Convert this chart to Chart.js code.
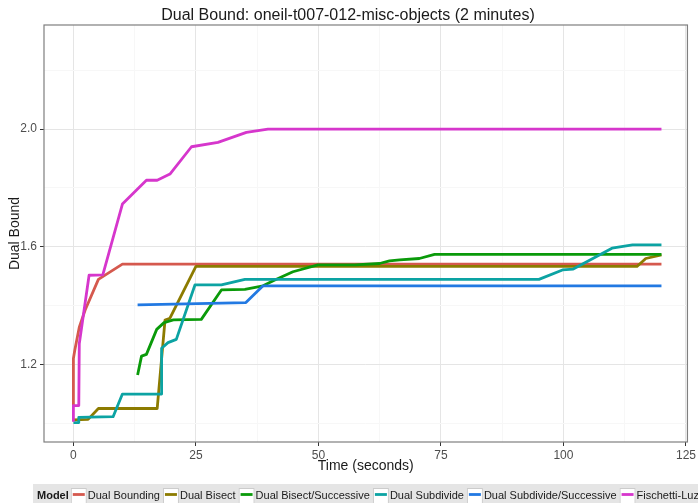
<!DOCTYPE html>
<html>
<head>
<meta charset="utf-8">
<title>Dual Bound: oneil-t007-012-misc-objects (2 minutes)</title>
<script src="https://cdn.jsdelivr.net/npm/chart.js@4.4.1/dist/chart.umd.min.js"></script>
<style>
  html, body { margin: 0; padding: 0; background: #ffffff; }
  canvas { display: block; }
</style>
</head>
<body>
<canvas id="chart" width="698" height="503"></canvas>
<script>
// Dual bound over time for each model (time in seconds, bound value)
const boundingTime = [0, 0, 0.3, 1.2, 2.4, 5.1, 10.0, 120];
const boundingDual = [1.06, 1.22, 1.25, 1.326, 1.385, 1.489, 1.541, 1.541];

const bisectTime = [0, 3.0, 5.1, 17.1, 18.7, 19.7, 25.0, 115.0, 116.8, 120];
const bisectDual = [1.011, 1.013, 1.05, 1.05, 1.351, 1.357, 1.533, 1.533, 1.56, 1.572];

const bisectSuccTime = [13.1, 13.9, 14.9, 17.0, 18.5, 20.4, 26.1, 30.2, 35.0, 38.7, 41.1, 44.8, 49.9, 57.4, 62.5, 64.5, 66.6, 70.6, 73.7, 120];
const bisectSuccDual = [1.164, 1.228, 1.234, 1.319, 1.342, 1.351, 1.353, 1.453, 1.455, 1.467, 1.487, 1.515, 1.538, 1.538, 1.543, 1.552, 1.555, 1.56, 1.574, 1.574];

const subdivideTime = [0, 1.0, 1.1, 8.1, 10.0, 18.0, 18.0, 19.3, 21.0, 24.8, 30.2, 35.0, 95.0, 99.8, 102.0, 109.9, 114.1, 120];
const subdivideDual = [1.002, 1.002, 1.02, 1.022, 1.099, 1.099, 1.255, 1.274, 1.285, 1.47, 1.47, 1.489, 1.489, 1.521, 1.524, 1.595, 1.606, 1.606];

const subdivideSuccTime = [13.1, 35.2, 38.7, 120];
const subdivideSuccDual = [1.402, 1.41, 1.467, 1.467];

const fischettiTime = [0, 0, 1.1, 1.2, 3.2, 6.0, 10.0, 14.9, 17.1, 19.7, 24.1, 29.5, 35.3, 39.7, 120];
const fischettiDual = [1.005, 1.06, 1.06, 1.27, 1.503, 1.504, 1.745, 1.826, 1.826, 1.847, 1.94, 1.955, 1.989, 2.0, 2.0];

const modelNames = ["Dual Bounding", "Dual Bisect", "Dual Bisect/Successive", "Dual Subdivide", "Dual Subdivide/Successive", "Fischetti-Luzzi"];
const modelColors = ["#D5594E", "#8C7B00", "#0A9A0A", "#0CA3A3", "#2279E2", "#D636CC"];

// Axis ticks: every position gets a grid line, only some get a label
const xTicks = [0, 12.5, 25, 37.5, 50, 62.5, 75, 87.5, 100, 112.5, 125];
const xLabelled = [0, 25, 50, 75, 100, 125];
const yTicks = [1.0, 1.2, 1.4, 1.6, 1.8, 2.0, 2.2];
const yLabelled = [1.2, 1.6, 2.0];

const FONT = "'Liberation Sans', Arial, Helvetica, sans-serif";

function zipPoints(times, values) {
  return times.map((t, i) => ({ x: t, y: values[i] }));
}

const seriesPairs = [
  [boundingTime, boundingDual],
  [bisectTime, bisectDual],
  [bisectSuccTime, bisectSuccDual],
  [subdivideTime, subdivideDual],
  [subdivideSuccTime, subdivideSuccDual],
  [fischettiTime, fischettiDual]
];

const datasets = seriesPairs.map((pair, i) => ({
  label: modelNames[i],
  data: zipPoints(pair[0], pair[1]),
  borderColor: modelColors[i],
  backgroundColor: modelColors[i],
  borderWidth: 2.8,
  borderJoinStyle: 'round',
  borderCapStyle: 'butt',
  pointRadius: 0,
  pointHoverRadius: 0,
  fill: false,
  tension: 0,
  order: modelNames.length - i   // later models are painted on top
}));

function isIn(list, v) {
  return list.some(w => Math.abs(w - v) < 1e-9);
}

// Grey panel frame drawn over the plotted lines
const panelFrame = {
  id: 'panelFrame',
  afterDatasetsDraw(chart) {
    const { ctx, chartArea: a } = chart;
    ctx.save();
    ctx.strokeStyle = '#7F7F7F';
    ctx.lineWidth = 1.2;
    ctx.strokeRect(a.left, a.top, a.right - a.left, a.bottom - a.top);
    ctx.restore();
  }
};

// Horizontal legend strip along the bottom edge
const modelLegend = {
  id: 'modelLegend',
  afterDraw(chart) {
    const ctx = chart.ctx;
    const top = 484;
    const mid = 496;
    ctx.save();
    ctx.fillStyle = '#E5E5E5';
    ctx.fillRect(33, top, chart.width - 33, chart.height - top);

    ctx.textBaseline = 'middle';
    ctx.textAlign = 'left';
    ctx.fillStyle = '#1A1A1A';
    ctx.font = 'bold 11px ' + FONT;
    ctx.fillText('Model', 37, mid);
    let x = 37 + ctx.measureText('Model').width + 2;

    ctx.font = '11px ' + FONT;
    chart.data.datasets.forEach(ds => {
      // key box
      ctx.fillStyle = '#FFFFFF';
      ctx.fillRect(x, 488, 16, 17);
      ctx.strokeStyle = '#CCCCCC';
      ctx.lineWidth = 1;
      ctx.strokeRect(x + 0.5, 488.5, 15, 16);
      // key line
      ctx.strokeStyle = ds.borderColor;
      ctx.lineWidth = 2.8;
      ctx.beginPath();
      ctx.moveTo(x + 2, 494.5);
      ctx.lineTo(x + 14, 494.5);
      ctx.stroke();
      // label
      ctx.fillStyle = '#1A1A1A';
      ctx.fillText(ds.label, x + 17, mid);
      x += 17 + ctx.measureText(ds.label).width + 3;
    });
    ctx.restore();
  }
};

new Chart(document.getElementById('chart'), {
  type: 'line',
  data: { datasets },
  plugins: [panelFrame, modelLegend],
  options: {
    responsive: false,
    animation: false,
    events: [],
    layout: { padding: { left: 8, right: 10, top: 0, bottom: 27 } },
    plugins: {
      legend: { display: false },
      tooltip: { enabled: false },
      title: {
        display: true,
        text: 'Dual Bound: oneil-t007-012-misc-objects (2 minutes)',
        color: '#1A1A1A',
        font: { family: FONT, size: 16, weight: 'normal' },
        padding: { top: 5.8, bottom: 0 }
      }
    },
    scales: {
      x: {
        type: 'linear',
        min: -6,
        max: 125.3,
        afterBuildTicks(scale) { scale.ticks = xTicks.map(v => ({ value: v })); },
        afterFit(scale) { scale.height = 34; },
        border: { display: false },
        grid: {
          drawTicks: true,
          tickLength: 4,
          lineWidth: 1,
          color: c => isIn(xLabelled, c.tick.value) ? '#E5E5E5' : '#F7F7F7',
          tickColor: c => isIn(xLabelled, c.tick.value) ? '#333333' : 'rgba(0,0,0,0)'
        },
        ticks: {
          autoSkip: false,
          maxRotation: 0,
          padding: 2,
          color: '#4D4D4D',
          font: { family: FONT, size: 12 },
          callback: v => isIn(xLabelled, v) ? String(v) : ''
        },
        title: {
          display: true,
          text: 'Time (seconds)',
          color: '#1A1A1A',
          font: { family: FONT, size: 14 },
          padding: { top: 0, bottom: 1.2 }
        }
      },
      y: {
        type: 'linear',
        min: 0.936,
        max: 2.354,
        afterBuildTicks(scale) { scale.ticks = yTicks.map(v => ({ value: v })); },
        afterFit(scale) { scale.width = 36; },
        border: { display: false },
        grid: {
          drawTicks: true,
          tickLength: 4,
          lineWidth: 1,
          color: c => isIn(yLabelled, c.tick.value) ? '#E5E5E5' : '#F7F7F7',
          tickColor: c => isIn(yLabelled, c.tick.value) ? '#333333' : 'rgba(0,0,0,0)'
        },
        ticks: {
          autoSkip: false,
          padding: 3,
          color: '#4D4D4D',
          font: { family: FONT, size: 12 },
          callback: v => isIn(yLabelled, v) ? v.toFixed(1) : ''
        },
        title: {
          display: true,
          text: 'Dual Bound',
          color: '#1A1A1A',
          font: { family: FONT, size: 14, lineHeight: 1.0 },
          padding: { top: 0, bottom: 0 }
        }
      }
    }
  }
});
</script>
</body>
</html>
